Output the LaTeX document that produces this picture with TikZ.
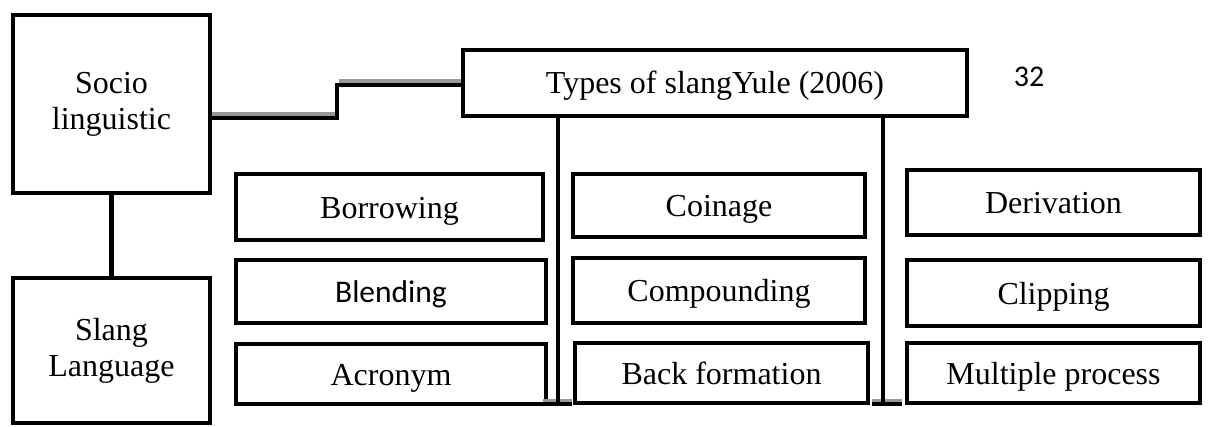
\documentclass[tikz,border=0pt]{standalone}
\usepackage{fontspec}
\setmainfont{Liberation Serif}
\newfontfamily\calibri{Carlito}
\begin{document}
\begin{tikzpicture}[x=1pt,y=-1pt,
  box/.style={draw=black, line width=4.5pt, fill=white, inner sep=0pt, align=center,
    font=\fontsize{32}{36}\selectfont},
  one/.style={box, text height=23pt, text depth=0pt},
  conn/.style={draw=black, line width=4.5pt},
  shad/.style={draw=black!40, line width=4pt}]
\useasboundingbox (0,0) rectangle (1216,427);
% left boxes
\node[box, minimum width=197pt, minimum height=178pt] (socio) at (111.5,104) {Socio\\linguistic};
\node[box, minimum width=197pt, minimum height=145pt] (slang) at (111.5,350.5) {Slang\\Language};
% title
\node[one, text height=21pt, minimum width=504pt, minimum height=66pt] (title) at (715,83) {Types of slangYule (2006)};
\node[font=\calibri\fontsize{30}{32}\selectfont, inner sep=0pt] (num) at (1029,77) {32};
% grid
\node[one, minimum width=307pt, minimum height=66pt] (borrow) at (389.5,207) {Borrowing};
\node[one, minimum width=310pt, minimum height=63pt] (blend) at (391,291.5) {\calibri\fontsize{31.5}{35}\selectfont Blending};
\node[one, minimum width=310pt, minimum height=60pt] (acro) at (391,374) {Acronym};
\node[one, minimum width=292pt, minimum height=63pt] (coin) at (719,205.5) {Coinage};
\node[one, minimum width=292pt, minimum height=65pt] (comp) at (719,290.5) {Compounding};
\node[one, minimum width=293pt, minimum height=60pt] (back) at (721.5,373) {Back formation};
\node[one, minimum width=293pt, minimum height=65pt] (deriv) at (1053.5,202.5) {Derivation};
\node[one, minimum width=293pt, minimum height=66pt] (clip) at (1053.5,293) {Clipping};
\node[one, minimum width=293pt, minimum height=60pt] (multi) at (1053.5,373) {Multiple process};
% socio to slang
\draw[conn] (socio.south) -- (slang.north);
% socio to title (stepped)
\coordinate (c1) at (337,118);
\coordinate (c2) at (337,85);
\draw[shad] ([yshift=4pt]c1 -| socio.east) -- ([xshift=2pt,yshift=4pt]c1);
\draw[shad] ([xshift=2pt,yshift=4pt]c2) -- ([yshift=4pt]c2 -| title.west);
\draw[conn, line join=miter] (c1 -| socio.east) -- (c1) -- (c2) -- (c2 -| title.west);
% vertical lines from title
\coordinate (v1) at (558,404);
\coordinate (v2) at (883,404);
\coordinate (v1l) at (543,404);
\coordinate (v1r) at (572,404);
\coordinate (v2l) at (872,404);
\coordinate (v2r) at (902,404);
\draw[shad] ([yshift=3pt]v1l) -- ([yshift=3pt]v1r);
\draw[shad] ([yshift=3pt]v2l) -- ([yshift=3pt]v2r);
\draw[draw=black, line width=4pt] (title.south -| v1) -- (v1);
\draw[draw=black, line width=4pt] (title.south -| v2) -- (v2);
\draw[draw=black, line width=4pt] (v1l) -- (v1r);
\draw[draw=black, line width=4pt] (v2l) -- (v2r);
\end{tikzpicture}
\end{document}
